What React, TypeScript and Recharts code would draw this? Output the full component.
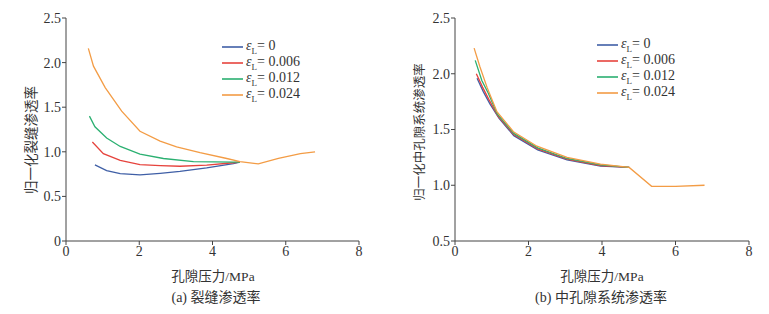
import React from 'react';
import { LineChart, Line, XAxis, YAxis } from 'recharts';

// series labels (epsilon_L values)
const SERIES = ['0', '0.006', '0.012', '0.024'];
const COLORS = ['#3f5fa6', '#e6433d', '#2bb071', '#f39c45'];

// (a) fracture permeability
const fracE0 = [
    { x: 0.79, y: 0.853 }, { x: 1.11, y: 0.789 }, { x: 1.48, y: 0.755 }, { x: 2.02, y: 0.741 },
    { x: 2.57, y: 0.759 }, { x: 3.11, y: 0.781 }, { x: 3.84, y: 0.82 }, { x: 4.57, y: 0.868 }, { x: 4.75, y: 0.885 },
];
const fracE006 = [
    { x: 0.72, y: 1.11 }, { x: 1.02, y: 0.98 }, { x: 1.48, y: 0.905 }, { x: 2.02, y: 0.857 },
    { x: 2.57, y: 0.846 }, { x: 3.11, y: 0.838 }, { x: 3.84, y: 0.85 }, { x: 4.57, y: 0.877 }, { x: 4.75, y: 0.885 },
];
const fracE012 = [
    { x: 0.64, y: 1.4 }, { x: 0.79, y: 1.28 }, { x: 1.11, y: 1.155 }, { x: 1.48, y: 1.06 },
    { x: 2.02, y: 0.975 }, { x: 2.66, y: 0.925 }, { x: 3.48, y: 0.89 }, { x: 4.57, y: 0.885 }, { x: 4.75, y: 0.885 },
];
const fracE024 = [
    { x: 0.61, y: 2.16 }, { x: 0.75, y: 1.96 }, { x: 1.07, y: 1.72 }, { x: 1.52, y: 1.455 },
    { x: 2.02, y: 1.23 }, { x: 2.57, y: 1.12 }, { x: 3.02, y: 1.055 }, { x: 3.66, y: 0.99 },
    { x: 4.39, y: 0.925 }, { x: 4.75, y: 0.89 }, { x: 5.25, y: 0.865 }, { x: 5.8, y: 0.925 },
    { x: 6.4, y: 0.98 }, { x: 6.8, y: 1.0 },
];

// (b) mesopore system permeability
const poreE0 = [
    { x: 0.6, y: 1.96 }, { x: 0.77, y: 1.84 }, { x: 0.95, y: 1.73 }, { x: 1.2, y: 1.6 }, { x: 1.6, y: 1.445 },
    { x: 2.25, y: 1.318 }, { x: 3.05, y: 1.228 }, { x: 3.96, y: 1.172 }, { x: 4.74, y: 1.16 },
];
const poreE006 = [
    { x: 0.58, y: 2.0 }, { x: 0.75, y: 1.88 }, { x: 0.92, y: 1.77 }, { x: 1.17, y: 1.62 }, { x: 1.6, y: 1.455 },
    { x: 2.25, y: 1.327 }, { x: 3.05, y: 1.235 }, { x: 3.96, y: 1.177 }, { x: 4.74, y: 1.16 },
];
const poreE012 = [
    { x: 0.55, y: 2.12 }, { x: 0.73, y: 1.94 }, { x: 0.9, y: 1.83 }, { x: 1.15, y: 1.64 }, { x: 1.6, y: 1.465 },
    { x: 2.25, y: 1.335 }, { x: 3.05, y: 1.24 }, { x: 3.96, y: 1.182 }, { x: 4.74, y: 1.16 },
];
const poreE024 = [
    { x: 0.52, y: 2.23 }, { x: 0.68, y: 2.06 }, { x: 0.87, y: 1.88 }, { x: 1.14, y: 1.66 }, { x: 1.59, y: 1.48 },
    { x: 2.23, y: 1.35 }, { x: 3.05, y: 1.25 }, { x: 3.96, y: 1.19 }, { x: 4.74, y: 1.16 },
    { x: 5.35, y: 0.99 }, { x: 6.0, y: 0.99 }, { x: 6.79, y: 1.0 },
];

const X_TICKS = [0, 2, 4, 6, 8];
const Y_TICKS_A = [0, 0.5, 1.0, 1.5, 2.0, 2.5];
const Y_TICKS_B = [0.5, 1.0, 1.5, 2.0, 2.5];

const SERIF = '"Liberation Serif", "Times New Roman", serif';
const CJK = '"Liberation Serif", "Noto Sans CJK SC", serif';
const TEXT = '#333';
const AXIS = '#444';

const tickStyle = { fontFamily: SERIF, fontSize: 14, fill: TEXT };
const fmtY = (v: number) => (v === 0 ? '0' : v.toFixed(1));

const Legend = ({ left, top }: { left: number; top: number }) => (
    <div style={{ position: 'absolute', left, top }}>
        {SERIES.map((s, i) => (
            <div key={s} style={{ display: 'flex', alignItems: 'center', height: 16, fontFamily: SERIF, fontSize: 14, color: TEXT }}>
                <svg width={21} height={4} style={{ marginRight: 3 }}>
                    <line x1={0} y1={2} x2={21} y2={2} stroke={COLORS[i]} strokeWidth={1.6} />
                </svg>
                <span>
                    <i>ε</i><sub style={{ fontSize: 9 }}>L</sub>= {s}
                </span>
            </div>
        ))}
    </div>
);

const Panel = ({ left, series, yDomain, yTicks, marginLeft, marginRight }: any) => (
    <div style={{ position: 'absolute', left, top: 0 }}>
        <LineChart width={380} height={270} margin={{ top: 18, right: marginRight, bottom: 5, left: marginLeft }}>
            <XAxis
                type="number"
                dataKey="x"
                domain={[0, 8]}
                ticks={X_TICKS}
                height={24}
                tick={tickStyle}
                tickSize={4}
                tickMargin={1}
                axisLine={{ stroke: AXIS }}
                tickLine={{ stroke: AXIS }}
            />
            <YAxis
                type="number"
                dataKey="y"
                domain={yDomain}
                ticks={yTicks}
                width={40}
                tick={tickStyle}
                tickFormatter={fmtY}
                tickSize={4}
                tickMargin={1}
                axisLine={{ stroke: AXIS }}
                tickLine={{ stroke: AXIS }}
            />
            {series.map((d: any, i: number) => (
                <Line
                    key={i}
                    data={d}
                    dataKey="y"
                    type="linear"
                    stroke={COLORS[i]}
                    strokeWidth={1.3}
                    dot={false}
                    isAnimationActive={false}
                />
            ))}
        </LineChart>
    </div>
);

const label = (extra: React.CSSProperties): React.CSSProperties => ({
    position: 'absolute',
    fontFamily: CJK,
    color: TEXT,
    whiteSpace: 'nowrap',
    ...extra,
});

export default function App() {
    return (
        <div style={{ position: 'absolute', left: 0, top: 0, width: 769, height: 314, background: '#fff', overflow: 'hidden' }}>
            <Panel left={0} series={[fracE0, fracE006, fracE012, fracE024]} yDomain={[0, 2.5]} yTicks={Y_TICKS_A} marginLeft={26} marginRight={21} />
            <Panel left={385} series={[poreE0, poreE006, poreE012, poreE024]} yDomain={[0.5, 2.5]} yTicks={Y_TICKS_B} marginLeft={30} marginRight={16} />

            <Legend left={222} top={39} />
            <Legend left={597} top={37} />

            <div style={label({ left: 30, top: 140, fontSize: 13.5, transform: 'translate(-50%, -50%) rotate(-90deg)' })}>归一化裂缝渗透率</div>
            <div style={label({ left: 418, top: 132, fontSize: 12.5, transform: 'translate(-50%, -50%) rotate(-90deg)' })}>归一化中孔隙系统渗透率</div>

            <div style={label({ left: 213, top: 275, fontSize: 13.5, transform: 'translate(-50%, -50%)' })}>孔隙压力/MPa</div>
            <div style={label({ left: 602, top: 275, fontSize: 13.5, transform: 'translate(-50%, -50%)' })}>孔隙压力/MPa</div>

            <div style={label({ left: 216, top: 296, fontSize: 14, transform: 'translate(-50%, -50%)' })}>(a) 裂缝渗透率</div>
            <div style={label({ left: 601, top: 296, fontSize: 14, transform: 'translate(-50%, -50%)' })}>(b) 中孔隙系统渗透率</div>
        </div>
    );
}
